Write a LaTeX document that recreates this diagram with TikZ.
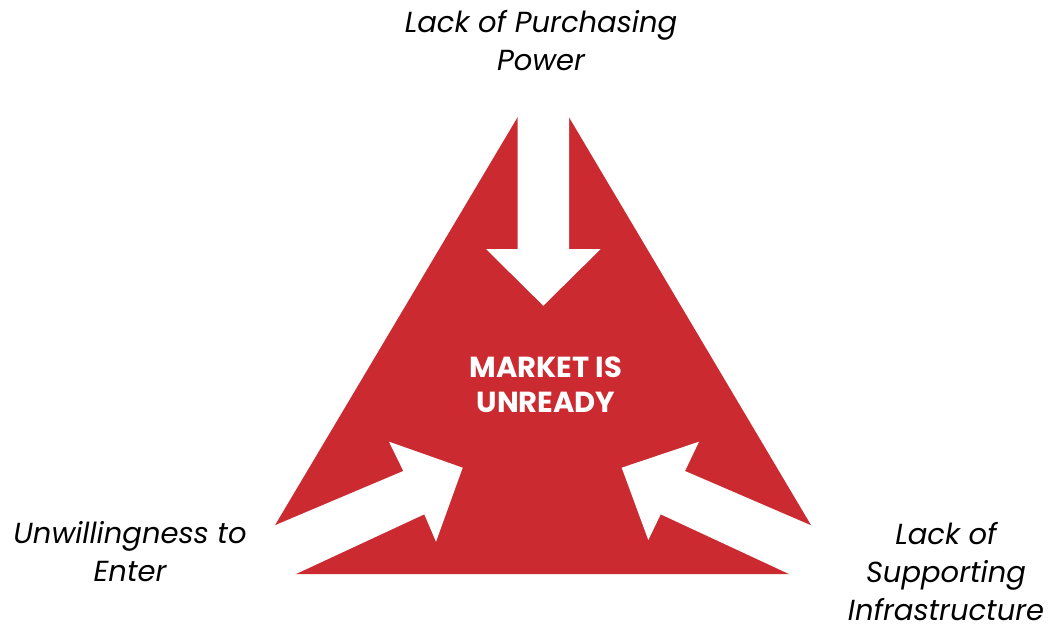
\documentclass[tikz,border=0pt]{standalone}
\usepackage{fontspec}
\setmainfont{Poppins}
\definecolor{tri}{RGB}{203,42,48}
\tikzset{
  field/.style={fill=tri, draw=none},
  cut/.style={fill=white, draw=none},
  factor/.style={font=\fontsize{29}{38}\selectfont\itshape, text=black, align=center, inner sep=0pt, anchor=base},
  core/.style={font=\fontsize{29}{34.5}\selectfont\bfseries, text=white, align=center, inner sep=0pt, anchor=base}
}
\begin{document}
\begin{tikzpicture}[x=1pt, y=-1pt]
  \useasboundingbox (0,0) rectangle (1053,624);
  % red triangle
  \fill[field] (246,574) -- (840,574) -- (543.3,74) -- cycle;
  % arrow from the top
  \fill[cut] (517.7,60) -- (569,60) -- (569,249) -- (600.7,249) -- (543.3,305.7)
    -- (486,249) -- (517.7,249) -- cycle;
  % arrow from the lower left, its tail cuts off the corner
  \fill[cut] (200,557) -- (403.3,471) -- (389,441.7) -- (462.7,467.7)
    -- (436,541.7) -- (424.3,514.3) -- (200,618.6) -- cycle;
  % arrow from the lower right, its tail cuts off the corner
  \fill[cut] (890,559.4) -- (685,471) -- (699,441.7) -- (621.7,467.7)
    -- (648.3,540) -- (660.7,514.3) -- (890,620.9) -- cycle;
  % labels (anchored at the baseline of the last line)
  \node[core] (center) at (546,412) {MARKET IS\\UNREADY};
  \node[factor] (top) at (541,70) {Lack of Purchasing\\Power};
  \node[factor] (left) at (130,581.7) {Unwillingness to\\Enter};
  \node[factor] (right) at (946,620) {Lack of\\Supporting\\Infrastructure};
\end{tikzpicture}
\end{document}
